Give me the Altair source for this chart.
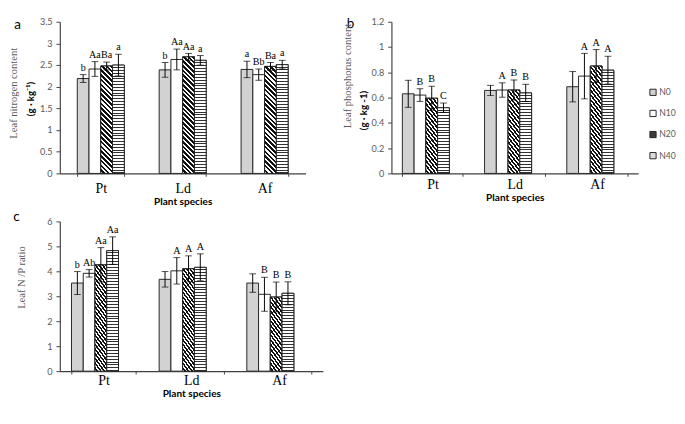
import altair as alt
import pandas as pd

species = ["Pt", "Ld", "Af"]
levels = ["N0", "N10", "N20", "N40"]

# (a) Leaf nitrogen content (g·kg-1): Pt N0..N40, Ld N0..N40, Af N0..N40
n_mean = [2.19, 2.41, 2.48, 2.50, 2.39, 2.63, 2.69, 2.61, 2.40, 2.28, 2.47, 2.51]
n_err = [0.09, 0.17, 0.09, 0.25, 0.17, 0.24, 0.08, 0.11, 0.19, 0.13, 0.09, 0.10]
n_lab = ["b", "Aa", "Ba", "a", "b", "Aa", "Aa", "a", "a", "Bb", "Ba", "a"]

# (b) Leaf phosphorus content (g·kg-1)
p_mean = [0.63, 0.62, 0.595, 0.52, 0.657, 0.66, 0.66, 0.637, 0.686, 0.77, 0.85, 0.817]
p_err = [0.107, 0.05, 0.095, 0.037, 0.04, 0.057, 0.08, 0.068, 0.12, 0.18, 0.13, 0.11]
p_lab = ["", "B", "B", "C", "", "A", "B", "B", "", "A", "A", "A"]

# (c) Leaf N/P ratio
r_mean = [3.53, 3.92, 4.26, 4.83, 3.68, 4.02, 4.10, 4.16, 3.53, 3.08, 2.97, 3.12]
r_err = [0.46, 0.15, 0.69, 0.55, 0.31, 0.53, 0.52, 0.54, 0.37, 0.68, 0.60, 0.46]
r_lab = ["b", "Ab", "Aa", "Aa", "", "A", "A", "A", "", "B", "B", "B"]

ticks_a = [0, 0.5, 1, 1.5, 2, 2.5, 3, 3.5]
ticks_b = [0, 0.2, 0.4, 0.6, 0.8, 1, 1.2]
ticks_c = [0, 1, 2, 3, 4, 5, 6]

level_fill = ["#d2d2d2", "#ffffff", "#3a3a3a", "#dcdcdc"]

SERIF = "Liberation Serif"
SANS = "Lato"
GRAY = "#595959"
INK = "#222222"
AXC = "#404040"


def stripes(n, frac, dark):
    stops = []
    for i in range(n):
        a = i / n
        b = (i + 1 - frac) / n
        c = (i + 1) / n
        stops += [
            {"offset": round(a, 5), "color": "#ffffff"},
            {"offset": round(b, 5), "color": "#ffffff"},
            {"offset": round(b, 5), "color": dark},
            {"offset": round(c, 5), "color": dark},
        ]
    return stops


def hatch_diag(w, h, pitch=5.0):
    k = h / w
    gx = (1 + k) / (1 + k * k)
    n = max(1, round((w + h) / pitch))
    return {"gradient": "linear", "x1": 0, "y1": 1, "x2": round(gx, 5),
            "y2": round(1 - gx * k, 5), "stops": stripes(n, 0.55, "#111111")}


def hatch_horiz(h, pitch=3.0):
    n = max(1, round(h / pitch))
    return {"gradient": "linear", "x1": 0, "y1": 0, "x2": 0, "y2": 1,
            "stops": stripes(n, 0.35, "#333333")}


def hidden_axis(text, pos, font, size, color, weight="normal", angle=270,
                align="center"):
    return alt.Axis(orient="left", title=text, labels=False, ticks=False,
                    domain=False, grid=False, titleFont=font, titleFontSize=size,
                    titleColor=color, titleFontWeight=weight, titleX=pos[0],
                    titleY=pos[1], titleAngle=angle, titleAlign=align,
                    titleBaseline="middle")


def panel(mean, err, lab, ymax, yticks, width, height, pad, letter, letter_pos,
          title_main, title_main_pos, title_main_style, title_extra=None,
          title_extra_pos=None, legend=None, label_pad=4, title_pad=3):
    df = pd.DataFrame({
        "species": [s for s in species for _ in levels],
        "level": levels * len(species),
        "v": mean,
        "e": err,
        "lab": lab,
    })
    xaxis = alt.Axis(title="Plant species", labelAngle=0, labelFont=SERIF,
                     labelFontSize=14.5, labelColor="black", labelPadding=label_pad,
                     ticks=True, tickBand="extent", tickSize=3, tickColor=AXC,
                     domainColor=AXC, domainWidth=1.2, grid=False,
                     titleFont=SANS, titleFontWeight="bold", titleFontSize=10.5,
                     titleColor="black", titlePadding=title_pad)
    x = alt.X("species:N", scale=alt.Scale(domain=species, paddingInner=pad,
                                           paddingOuter=pad / 2), axis=xaxis)
    xo = alt.XOffset("level:N", scale=alt.Scale(domain=levels, paddingInner=0,
                                                paddingOuter=0))
    ysc = alt.Scale(domain=[0, ymax], nice=False, zero=True)

    main_axis = alt.Axis(values=yticks, format=".1~f", grid=False, tickSize=4,
                         tickColor=AXC, domainColor=AXC, domainWidth=1.2,
                         labelPadding=4, labelFont=SANS, labelFontSize=9.5,
                         labelColor=GRAY, title=title_main,
                         titleX=title_main_pos[0], titleY=title_main_pos[1],
                         titleAngle=270, titleAlign="center", titleBaseline="middle",
                         **title_main_style)
    base = alt.Chart(df).transform_calculate(
        lo="datum.v - datum.e", hi="datum.v + datum.e"
    ).encode(x=x, xOffset=xo)

    bars = base.mark_bar(stroke=INK, strokeWidth=1).encode(
        y=alt.Y("v:Q", scale=ysc, axis=main_axis),
        fill=alt.Fill("level:N", scale=alt.Scale(domain=levels, range=level_fill),
                      legend=legend),
    )

    bw = width / 3 * (1 - pad) / 4
    overlays = []
    for i, (s, l) in enumerate(zip(df["species"], df["level"])):
        if l not in ("N20", "N40"):
            continue
        h = mean[i] / ymax * height
        grad = hatch_diag(bw, h) if l == "N20" else hatch_horiz(h)
        overlays.append(
            base.transform_filter(
                (alt.datum.species == s) & (alt.datum.level == l)
            ).mark_bar(fill=grad, stroke=INK, strokeWidth=1).encode(
                y=alt.Y("v:Q", scale=ysc, axis=None)
            )
        )

    rule = base.mark_rule(color="black", strokeWidth=1).encode(
        y=alt.Y("lo:Q", scale=ysc, axis=None), y2="hi:Q")
    letter_axis = hidden_axis(letter, letter_pos, SANS, 14, "black", angle=0,
                              align="left")
    cap_hi = base.mark_tick(color="black", thickness=1, size=7).encode(
        y=alt.Y("hi:Q", scale=ysc, axis=letter_axis))
    cap_lo = base.mark_tick(color="black", thickness=1, size=7).encode(
        y=alt.Y("lo:Q", scale=ysc, axis=None))

    if title_extra is not None:
        extra_axis = hidden_axis(title_extra, title_extra_pos, SERIF, 11, GRAY)
    else:
        extra_axis = None
    text = base.mark_text(baseline="bottom", dy=-2, font=SERIF, fontSize=10.5,
                          color="black").encode(
        y=alt.Y("hi:Q", scale=ysc, axis=extra_axis), text="lab:N")

    layer = alt.layer(bars, *overlays, rule, cap_hi, cap_lo, text).properties(
        width=width, height=height,
    ).resolve_axis(y="independent")
    return layer


bold_title = dict(titleFont=SANS, titleFontWeight="bold", titleFontSize=10,
                  titleColor="black")
serif_title = dict(titleFont=SERIF, titleFontWeight="normal", titleFontSize=11,
                   titleColor=GRAY)

legend_b = alt.Legend(orient="none", legendX=268, legendY=69, title=None,
                      symbolType="square", symbolSize=42, symbolStrokeColor=INK,
                      symbolStrokeWidth=1, labelFont=SANS, labelFontSize=9,
                      labelColor=GRAY, rowPadding=11, labelOffset=2, padding=0)

pa = panel(n_mean, n_err, n_lab, 3.5, ticks_a, 256, 158, 0.426, "a", (-48, 3.5),
           "(g · kg⁻¹)", (-30, 80), bold_title, "Leaf nitrogen content", (-48, 74),
           label_pad=6, title_pad=2)
pb = panel(p_mean, p_err, p_lab, 1.2, ticks_b, 257, 158, 0.265, "b", (-47, 1.5),
           "(g · kg -1)", (-29, 92), bold_title, "Leaf phosphorus content", (-46, 56),
           legend=legend_b, label_pad=2, title_pad=2)
pc = panel(r_mean, r_err, r_lab, 6, ticks_c, 274, 156, 0.266, "c", (-49, -5),
           "Leaf N /P ratio", (-40, 58), serif_title, label_pad=0, title_pad=2)

chart = alt.concat(pa, pb, pc, columns=2, bounds="flush",
                   spacing={"row": 50, "column": 71.5}).resolve_scale(
    fill="independent"
).properties(padding={"left": 0, "top": 0, "right": 0, "bottom": 0}).configure_view(
    stroke=None
)

chart.save("out.html", embed_options={"renderer": "svg", "actions": False})
